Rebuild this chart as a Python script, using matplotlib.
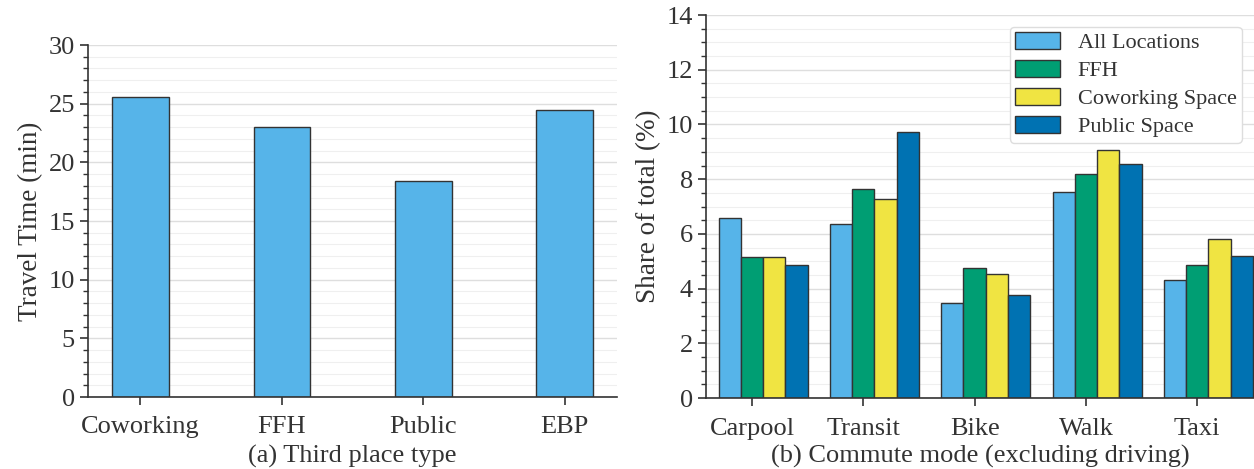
import numpy as np
import matplotlib.pyplot as plt
from matplotlib.ticker import MultipleLocator

# datos del panel (a)
lugares = ['Coworking', 'FFH', 'Public', 'EBP']
tiempo_viaje = [25.56, 23.04, 18.45, 24.45]

# datos del panel (b)
modos = ['Carpool', 'Transit', 'Bike', 'Walk', 'Taxi']
series = ['All Locations', 'FFH', 'Coworking Space', 'Public Space']
todos = [6.57, 6.35, 3.48, 7.54, 4.32]
ffh = [5.15, 7.66, 4.74, 8.19, 4.88]
coworking = [5.15, 7.29, 4.52, 9.05, 5.82]
publico = [4.87, 9.74, 3.76, 8.57, 5.2]
valores = [todos, ffh, coworking, publico]

colores = ['#56B4E9', '#009E73', '#F0E442', '#0072B2']
gris = '#333333'

plt.rcParams['font.family'] = ['Liberation Serif']
plt.rcParams['text.color'] = gris
plt.rcParams['axes.labelcolor'] = gris
plt.rcParams['xtick.color'] = gris
plt.rcParams['ytick.color'] = gris

fig = plt.figure(figsize=(12.54, 4.69), dpi=100)
ax1 = fig.add_axes([0.0702, 0.1535, 0.4219, 0.7505])
ax2 = fig.add_axes([0.563, 0.151, 0.437, 0.817])


def estilo(ax):
    for lado in ['top', 'right']:
        ax.spines[lado].set_visible(False)
    for lado in ['left', 'bottom']:
        ax.spines[lado].set_color(gris)
        ax.spines[lado].set_linewidth(1.2)
    ax.set_axisbelow(True)
    ax.yaxis.grid(True, which='major', color='#dedede', linewidth=1.0)
    ax.yaxis.grid(True, which='minor', color='#efefef', linewidth=0.8)
    ax.tick_params(axis='both', which='major', labelsize=19, length=6, width=1.2, direction='out')
    ax.tick_params(axis='x', which='major', pad=8)
    ax.tick_params(axis='y', which='minor', length=3.5, width=1.0, direction='out')
    ax.tick_params(axis='x', which='minor', length=0)


# panel (a)
x1 = np.arange(len(lugares))
ax1.bar(x1, tiempo_viaje, width=0.4, color=colores[0], edgecolor=gris, linewidth=1.0)
ax1.set_xticks(x1)
ax1.set_xticklabels(lugares)
ax1.set_xlim(-0.37, 3.37)
ax1.set_ylim(0, 30)
ax1.yaxis.set_major_locator(MultipleLocator(5))
ax1.yaxis.set_minor_locator(MultipleLocator(1))
ax1.set_ylabel('Travel Time (min)', fontsize=19.5)
ax1.set_xlabel('(a) Third place type', fontsize=19, labelpad=5)
estilo(ax1)

# panel (b)
x2 = np.arange(len(modos))
ancho = 0.2
for i, (nombre, vals) in enumerate(zip(series, valores)):
    ax2.bar(x2 + (i - 1) * ancho, vals, width=ancho, color=colores[i],
            edgecolor=gris, linewidth=1.0, label=nombre)
ax2.set_xticks(x2)
ax2.set_xticklabels(modos)
ax2.set_xlim(-0.413, 4.51)
ax2.set_ylim(0, 14)
ax2.yaxis.set_major_locator(MultipleLocator(2))
ax2.yaxis.set_minor_locator(MultipleLocator(0.5))
ax2.set_ylabel('Share of total (%)', fontsize=19.5)
ax2.set_xlabel('(b) Commute mode (excluding driving)', fontsize=19, labelpad=4)
estilo(ax2)
leg = ax2.legend(loc='upper right', bbox_to_anchor=(0.978, 0.969), borderaxespad=0,
                 fontsize=16, frameon=True, fancybox=True, framealpha=1,
                 handlelength=2.0, handleheight=0.75, labelspacing=0.32,
                 borderpad=0.25, handletextpad=0.8)
leg.get_frame().set_edgecolor('#dddddd')
leg.get_frame().set_linewidth(1.0)
leg.set_zorder(10)

fig.savefig('out.png', dpi=100)
